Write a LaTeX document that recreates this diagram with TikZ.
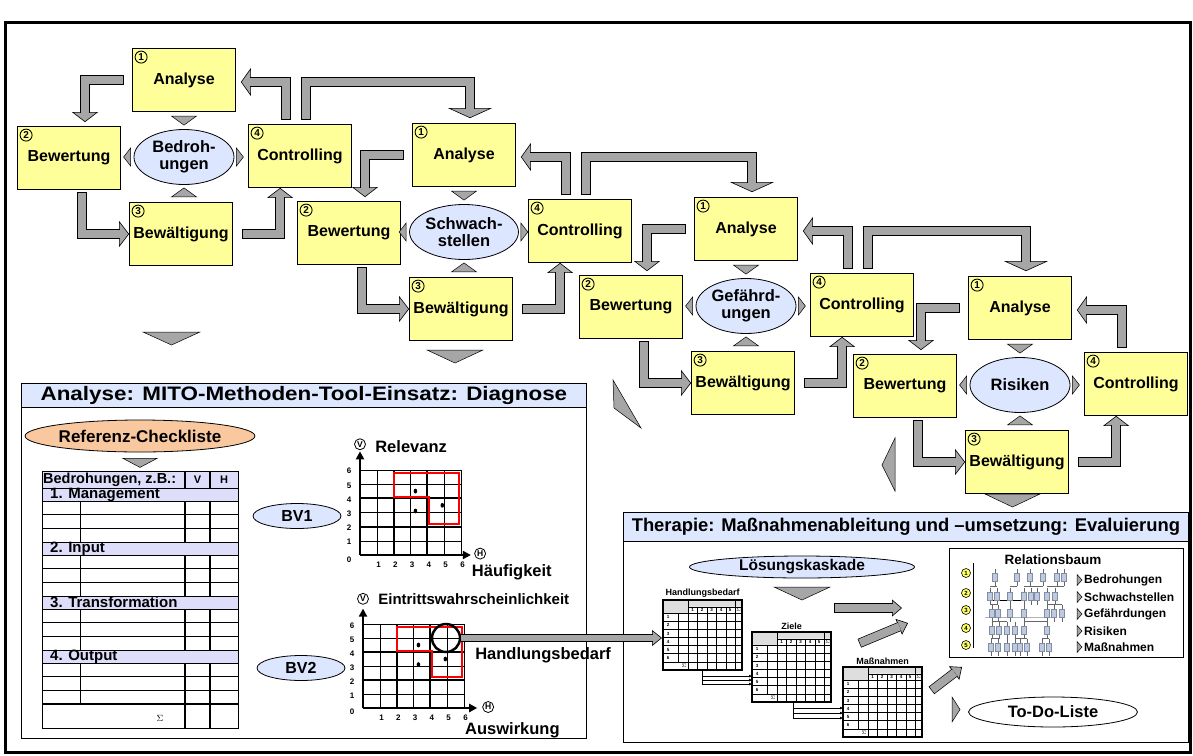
\documentclass[tikz,border=0pt]{standalone}
\usepackage{fontspec}
\setmainfont{Liberation Sans}
\newfontfamily\widefont{Liberation Sans}[FakeStretch=1.15]
\usepackage{tikz}
\usetikzlibrary{calc,shapes.geometric,arrows.meta}

\definecolor{boxyellow}{RGB}{255,255,153}
\definecolor{topicblue}{RGB}{221,230,255}
\definecolor{arrowgrey}{RGB}{166,166,166}
\definecolor{barblue}{RGB}{221,232,255}
\definecolor{rowlilac}{RGB}{222,222,250}
\definecolor{peach}{RGB}{250,200,158}
\definecolor{cellgrey}{RGB}{222,222,222}
\definecolor{iconblue}{RGB}{190,202,224}
\definecolor{iconedge}{RGB}{130,140,165}
\definecolor{numyellow}{RGB}{255,255,102}

\newcommand{\boldsize}[1]{\bfseries\fontsize{#1}{#1}\selectfont}

\tikzset{
  phase/.style={draw, line width=0.8pt, fill=boxyellow, minimum width=103pt, minimum height=63pt, inner sep=0pt, font=\boldsize{16}},
  topic/.style={ellipse, draw, line width=0.8pt, fill=topicblue, minimum width=100pt, minimum height=55pt, inner sep=0pt, align=center, font=\bfseries\fontsize{16.5}{17.5}\selectfont},
  num/.style={circle, draw, line width=0.9pt, inner sep=0pt, minimum size=12pt, font=\boldsize{10}},
  tri/.style={draw, line width=0.5pt, fill=arrowgrey, line join=miter},
  shaft/.style={draw=arrowgrey, line width=8pt, line join=miter, shorten >=-0.8pt,
    preaction={draw=black, line width=9.4pt, shorten <=-0.7pt, shorten >=-0.8pt}},
  thinshaft/.style={draw=arrowgrey, line width=6pt, line join=miter, shorten >=-0.8pt,
    preaction={draw=black, line width=7.4pt, shorten <=-0.7pt, shorten >=-0.8pt}},
  blockhead/.style={draw, line width=0.6pt, line join=miter, -{Triangle[width=#1, length=10pt, fill=arrowgrey]}},
  panelhead/.style={draw, line width=0.8pt, fill=barblue, minimum width=565pt, anchor=north west, inner sep=0pt},
  bubble/.style={ellipse, draw, line width=0.8pt, inner sep=0pt},
  axisnum/.style={font=\boldsize{8}, inner sep=0pt},
  letter/.style={circle, draw, line width=0.8pt, inner sep=0pt, minimum size=11pt, font=\boldsize{8.5}},
  axtitle/.style={font=\boldsize{16.5}, anchor=west, inner sep=0pt},
  tabnum/.style={font=\boldsize{4.5}, inner sep=0pt},
  chip/.style={draw=iconedge, fill=iconblue, line width=0.3pt},
  treeline/.style={draw=black!60, line width=0.4pt},
  relnum/.style={circle, draw, line width=0.6pt, fill=numyellow, inner sep=0pt, minimum size=9pt, font=\boldsize{6}}
}

% small matrix of the solution cascade
\newcommand{\smalltable}[4]{%
  \begin{scope}[shift={(#1,#2)}]
    \fill[cellgrey] (0,0) rectangle (25,13.3) (25,0) rectangle (79,6.7);
    \draw[line width=0.4pt] (25,6.7) -- (79,6.7) (0,13.3) -- (79,13.3);
    \foreach \r in {1,...,6}
      \draw[line width=0.4pt] (0,13.3+8.07*\r) -- (79,13.3+8.07*\r);
    \foreach \c in {34.3,44,53.3,62.7,71.7}
      \draw[line width=0.4pt] (\c,6.7) -- (\c,70);
    \draw[line width=0.8pt] (25,0) -- (25,70);
    \draw[line width=0.4pt] (71.7,0) -- (71.7,6.7) (15,13.3) -- (15,61.7);
    \foreach \r in {1,...,6}
      \node[tabnum] at (5,9.27+8.07*\r) {\r};
    \foreach \c/\lab in {29.7/1,39.2/2,48.7/3,58/4,67.2/5,75.5/$\Sigma$}
      \node[tabnum] at (\c,10) {\lab};
    \node[tabnum] at (21,66) {$\Sigma$};
    \draw[line width=1.4pt] (0,0) rectangle (79,70);
    \node[font=\boldsize{9}, anchor=south, inner sep=1pt] at (39.5,-1) {#3};
  \end{scope}
  \coordinate (#4) at (#1,#2);
}

% common part of both portfolio charts
\newcommand{\riskgrid}{%
  \draw[step=1, line width=0.5pt] (0,0) grid (6,6);
  \draw[line width=1.8pt] (2,0) -- (2,6) (4,0) -- (4,6) (0,2) -- (6,2) (0,4) -- (6,4);
  \draw[red, line width=2pt] (2,5.8) -- (5.9,5.8) -- (5.9,2.2) -- (4.1,2.2) -- (4.1,4.1) -- (2,4.1) -- cycle;
  \foreach \px/\py in {3.3/4.5,3.3/3.1,4.9/3.5}
    \fill (\px,\py) ellipse [x radius=1.8pt, y radius=2.4pt];
  \foreach \v in {1,...,6}{
    \node[axisnum] at (-0.65,\v-0.1) {\v};
    \node[axisnum] at (\v+0.1,-0.7) {\v};
  }
  \node[axisnum] at (-0.65,-0.3) {0};
}

\begin{document}
\begin{tikzpicture}[x=1pt, y=-1pt]
\useasboundingbox (0,0) rectangle (1193,755);
\fill[white] (0,0) rectangle (1193,755);
\draw[line width=3pt] (5,22) rectangle (1190,752);

% the four cycles
\foreach \i/\x/\y/\topictext in {1/184/80/{Bedroh-\\ungen},2/464/155/{Schwach-\\stellen},3/746/229/{Gefährd-\\ungen},4/1020/308/{Risiken}}
{
  \node[phase] (ana\i) at (\x,\y) {Analyse};
  \node[phase] (bew\i) at (\x-115,\y+78) {Bewertung};
  \node[topic] (top\i) at (\x,\y+77) {\topictext};
  \node[phase] (con\i) at (\x+116,\y+76) {Controlling};
  \node[phase] (bwa\i) at (\x-3,\y+154) {Bewältigung};
  \node[num] at ($(ana\i.north west)+(9,9)$) {1};
  \node[num] at ($(bew\i.north west)+(9,9)$) {2};
  \node[num] at ($(bwa\i.north west)+(9,9)$) {3};
  \node[num] at ($(con\i.north west)+(9,9)$) {4};
  % small triangles round the topic
  \draw[tri] ($(top\i.north)+(-12.5,-13)$) -- ++(25,0) -- ++(-12.5,9) -- cycle;
  \draw[tri] ($(top\i.south)+(-12.5,12)$) -- ++(25,0) -- ++(-12.5,-9) -- cycle;
  \draw[tri] ($(top\i.west)+(-3,-9)$) -- ++(0,18) -- ++(-7,-9) -- cycle;
  \draw[tri] ($(top\i.east)+(2,-9)$) -- ++(0,18) -- ++(7,-9) -- cycle;
  % block arrows of the cycle
  \draw[blockhead=26pt] ($(bew\i.north)+(16,-14)$) -- ++(0,10);
  \draw[shaft] ($(ana\i.west)+(-9,0)$) -| ($(bew\i.north)+(16,-14)$);
  \draw[blockhead=26pt] ($(bwa\i.west)+(-10,0)$) -- (bwa\i.west);
  \draw[shaft] ($(bew\i.south)+(13,3)$) |- ($(bwa\i.west)+(-10,0)$);
  \draw[blockhead=26pt] ($(con\i.south west)+(32,10)$) -- ++(0,-10);
  \draw[shaft] ($(bwa\i.east)+(10,0)$) -| ($(con\i.south west)+(32,10)$);
  \draw[blockhead=28pt] ($(ana\i.east)+(15,2)$) -- ++(-10,0);
  \draw[shaft] ($(con\i.north west)+(38,-5)$) |- ($(ana\i.east)+(15,2)$);
}

% hand over to the next cycle
\foreach \i/\j in {1/2,2/3,3/4}{
  \coordinate (bend\i) at ($(ana\i.north)+(0,34)$);
  \coordinate (drop\j) at ($(ana\j.north)+(6,-15)$);
  \draw[blockhead=44pt] (drop\j) -- ++(0,10);
  \draw[shaft] ($(con\i.north west)+(58,-5)$) |- (bend\i -| drop\j) -- (drop\j);
}

% loose triangles
\draw[tri] (143,332) -- (200,332) -- (171.5,345) -- cycle;
\draw[tri] (427,350) -- (483,350) -- (455,363) -- cycle;
\draw[tri] (613,380) -- (614,408) -- (641,428) -- cycle;
\draw[tri] (895,438) -- (882,465) -- (895,491) -- cycle;
\draw[tri] (985,494) -- (1040,494) -- (1012.5,507) -- cycle;

% diagnosis panel
\node[panelhead, minimum height=24pt, font=\widefont\boldsize{19.5}] (diaghead) at (21,383) {Analyse: MITO-Methoden-Tool-Einsatz: Diagnose};
\draw[line width=0.8pt] (diaghead.south west) rectangle (586,738);

\node[bubble, fill=peach, minimum width=220pt, minimum height=32pt, font=\boldsize{17}] (refcheck) at (140,436) {Referenz-Checkliste};
\draw[tri] ($(refcheck.south)+(-17,6)$) -- ++(34,0) -- ++(-17,9) -- cycle;

\fill[rowlilac] (42,471) rectangle (238,488);
\draw[line width=1.6pt] (185,471) -- (185,728) (210,471) -- (210,728);
\foreach \name [count=\n] in {1. Management,2. Input,3. Transformation,4. Output}{
  \pgfmathsetmacro{\secy}{488+54*(\n-1)}
  \draw[line width=0.6pt, fill=rowlilac] (42,\secy) rectangle (238,\secy+13);
  \node[anchor=west, inner sep=0pt, font=\boldsize{15}] at (50,\secy+6.5) {\name};
  \foreach \r in {1,2}
    \draw[line width=0.6pt] (42,\secy+13+13.67*\r) -- (238,\secy+13+13.67*\r);
  \draw[line width=0.6pt] (80,\secy+13) -- (80,\secy+54);
}
\draw[line width=1.6pt] (42,704) -- (238,704);
\node[font=\small] at (160,718) {$\Sigma$};
\node[anchor=west, inner sep=0pt, font=\boldsize{14.5}] at (43,479.5) {Bedrohungen, z.B.:};
\node[font=\boldsize{11}] at (197.5,479.5) {V};
\node[font=\boldsize{11}] at (224,479.5) {H};
\draw[line width=0.8pt] (42,471) rectangle (238,728);

\node[bubble, fill=topicblue, minimum width=88pt, minimum height=25pt, font=\boldsize{16}] (bv1) at (297,516) {BV1};
\node[bubble, fill=topicblue, minimum width=88pt, minimum height=25pt, font=\boldsize{16}] (bv2) at (301,668) {BV2};

\begin{scope}[shift={(360,555)}, x=16.8pt, y=14.2pt]
  \riskgrid
  \draw[line width=2pt, -{Triangle[width=8pt,length=8pt]}] (0,0) -- (0,7.3);
  \draw[line width=2pt, -{Triangle[width=8pt,length=8pt]}] (0,0) -- (6.6,0);
  \node[letter] at (0,7.8) {V};
  \node[axtitle] at (0.9,7.65) {Relevanz};
  \node[letter] at (7.15,0.1) {H};
  \node[axtitle] at (6.65,-1.2) {Häufigkeit};
\end{scope}

\begin{scope}[shift={(363,708)}, x=16.8pt, y=14pt]
  \riskgrid
  \draw[line width=2pt, -{Triangle[width=8pt,length=8pt]}] (0,0) -- (0,7.1);
  \draw[line width=2pt, -{Triangle[width=8pt,length=8pt]}] (0,0) -- (6.8,0);
  \node[letter] at (0,7.8) {V};
  \node[axtitle, font=\boldsize{15}] at (0.9,7.8) {Eintrittswahrscheinlichkeit};
  \node[letter] at (7.45,0.07) {H};
  \node[axtitle] at (6.07,-1.57) {Auswirkung};
  \node[circle, draw, line width=2.5pt, minimum size=28pt, inner sep=0pt] (hotspot) at (4.94,5) {};
  \node[axtitle] at (6.67,3.8) {Handlungsbedarf};
\end{scope}

% therapy panel
\node[panelhead, minimum height=29pt, font=\boldsize{18.4}] (therhead) at (623,512) {Therapie: Maßnahmenableitung und –umsetzung: Evaluierung};
\draw[line width=0.8pt] (therhead.south west) rectangle (1188,742);

\node[bubble, fill=topicblue, minimum width=225pt, minimum height=22pt, font=\boldsize{15.5}] (kaskade) at (802,567) {Lösungskaskade};
\draw[tri] (774,587) -- (830,587) -- (802,600) -- cycle;

\smalltable{663}{600}{Handlungsbedarf}{hb}
\smalltable{752}{632}{Ziele}{zl}
\smalltable{843}{667}{Maßnahmen}{mn}

\draw[line width=0.6pt] ($(hb)+(39,70)$) -- ($(hb)+(39,84)$);
\foreach \dy in {76,80,84}
  \draw[line width=0.6pt, -{Latex[length=3pt,width=3pt]}] ($(hb)+(39,\dy)$) -- ($(zl)+(0,\dy-32)$);
\draw[line width=0.6pt] ($(zl)+(41,70)$) -- ($(zl)+(41,86)$);
\foreach \dy in {76,81,86}
  \draw[line width=0.6pt, -{Latex[length=3pt,width=3pt]}] ($(zl)+(41,\dy)$) -- ($(mn)+(0,\dy-35)$);

\coordinate (hbin) at ($(hb)+(-1,39)$);
\draw[blockhead=16pt] ($(hotspot.east -| hbin)+(-10,0)$) -- (hotspot.east -| hbin);
\draw[thinshaft] (hotspot.east) -- ($(hotspot.east -| hbin)+(-10,0)$);

\coordinate (fws1) at (835,608);  \coordinate (fwe1) at (902,608);
\coordinate (fws2) at (860,643);  \coordinate (fwe2) at (908,623);
\coordinate (fws3) at (932,690);  \coordinate (fwe3) at (962,667);
\foreach \a in {1,2,3}{
  \draw[blockhead=17pt] ($(fwe\a)!10pt!(fws\a)$) -- (fwe\a);
  \draw[shaft] (fws\a) -- ($(fwe\a)!10pt!(fws\a)$);
}

% relation tree
\node[draw, line width=0.8pt, minimum width=234pt, minimum height=109pt, anchor=north west, inner sep=0pt] (relbaum) at (949,548) {};
\node[font=\boldsize{13.5}] at (1053,560) {Relationsbaum};
\draw[line width=0.6pt] (973,563) -- (973,648);
\foreach \k/\yy in {1/573,2/593,3/610,4/628,5/645}
  \node[relnum] at (966,\yy) {\k};
\foreach \xa/\xb/\yb in {990/997/586.5,1010/1017/586.5,1024/1043/586.5,1047/1064/586.5,
    990/998/604.5,1047/1062/604.5,992/1007/621.5,1024/1047/621.5,
    991/999/638.5,1015/1027/638.5,1042/1049/638.5}
  \draw[treeline] (\xa,\yb) -- (\xb,\yb);
\draw[line width=0.8pt] (987,600.5) -- (1024,600.5);
\draw[treeline, black!30] (985,617) -- (1052,617);
\foreach \cy/\xs in {577/{995,1017,1030,1043,1057,1064},596/{990,997,1010,1024,1031,1037,1047,1055},
    613/{992,998,1010,1024,1047,1054,1062},630/{992,999,1007,1015,1024,1047},
    647/{991,998,1007,1015,1020,1027,1042,1049}}{
  \foreach \cx in \xs{
    \draw[treeline] (\cx,\cy-8.5) -- (\cx,\cy+8.5);
    \draw[chip] (\cx-2.6,\cy-4.2) rectangle (\cx+2.6,\cy+4.2);
  }
}
\foreach \lbl/\yy in {Bedrohungen/580,Schwachstellen/597,Gefährdungen/614,Risiken/631,Maßnahmen/647}{
  \draw[tri] (1077,\yy-5.5) -- (1082,\yy) -- (1077,\yy+5.5) -- cycle;
  \node[anchor=west, inner sep=0pt, font=\boldsize{12}] at (1084,\yy) {\lbl};
}

% to-do list
\draw[tri] (952,697) -- (960,709.5) -- (952,722) -- cycle;
\node[bubble, fill=white, minimum width=169pt, minimum height=30pt, font=\boldsize{16.5}] (todo) at (1053,712) {To-Do-Liste};
\end{tikzpicture}
\end{document}
